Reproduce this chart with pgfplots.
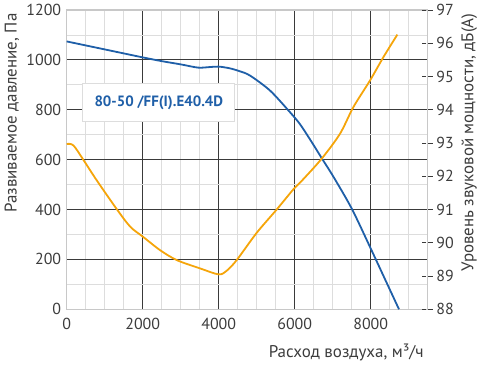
\documentclass[border=0pt]{standalone}
\usepackage{fontspec}
\setmainfont{PT Sans}
\usepackage{pgfplots}
\pgfplotsset{compat=1.18}
\definecolor{cblue}{HTML}{1F5FA8}
\definecolor{corange}{HTML}{F5A50A}
\definecolor{ctext}{HTML}{3C3C3C}
\definecolor{cgrid}{HTML}{DDDDDD}
\definecolor{cframe}{HTML}{C8C8C8}
\definecolor{cmaj}{HTML}{3A3A3A}
\begin{document}
\begin{tikzpicture}
\path[use as bounding box] (-66.7bp,-60.7bp) rectangle (424.3bp,309.3bp);
\begin{axis}[
 scale only axis, width=360.6bp, height=299.3bp,
 xmin=0, xmax=9490, ymin=0, ymax=1200,
 xtick={0,2000,...,8000}, ytick={0,200,...,1200},
 minor xtick={500,1000,...,9000}, minor ytick={100,300,...,1100},
 grid=both,
 major grid style={cmaj, line width=0.8bp},
 minor grid style={cgrid, line width=0.8bp},
 axis line style={cframe, line width=1.5bp},
 tick style={draw=none},
 /pgf/number format/assume math mode=true,
 /pgf/number format/1000 sep={},
 tick label style={font=\fontsize{16}{19}\selectfont, text=ctext},
 yticklabel style={xshift=-2bp},
 xticklabel style={yshift=-5bp},
 every axis y label/.style={at={(rel axis cs:-0.152,1)}, rotate=90, anchor=east, font=\fontsize{17}{20}\selectfont, text=ctext},
 every axis x label/.style={at={(rel axis cs:1,-0.1437)}, anchor=east, font=\fontsize{17}{20}\selectfont, text=ctext},
 ylabel={Развиваемое давление, Па},
 xlabel={Расход воздуха, м³/ч},
]
\addplot[cblue, line width=1.8bp, smooth, tension=0.5] coordinates {
(0,1074) (500,1058) (1000,1042) (1500,1026) (2000,1010) (2500,995) (3000,982) (3455,969) (3750,971) (4000,973) (4297,966) (4561,954) (4825,937) (5351,877) (5877,790) (6140,742) (6450,670) (6711,606) (7017,532) (7500,404) (8000,244) (8400,113) (8745,0)
};
\node[draw=cgrid, fill=white, line width=1bp, minimum width=152bp, minimum height=38.4bp, anchor=north west, inner sep=0pt, font=\fontsize{15}{18}\selectfont\bfseries, text=cblue] at (axis cs:411,908) {80-50 /FF(I).E40.4D};
\end{axis}
\begin{axis}[
 scale only axis, width=360.6bp, height=299.3bp,
 xmin=0, xmax=9490, ymin=88, ymax=97,
 axis x line=none, axis y line*=right,
 ytick={88,89,...,97},
 axis line style={cframe, line width=1.5bp},
 major tick length=11bp, tick align=center,
 tick style={cmaj, line width=0.8bp, dash pattern=on 4.5bp off 2bp on 4.5bp},
 /pgf/number format/assume math mode=true,
 tick label style={font=\fontsize{16}{19}\selectfont, text=ctext},
 every axis y label/.style={at={(rel axis cs:1.1165,1)}, rotate=90, anchor=east, font=\fontsize{17}{20}\selectfont, text=ctext},
 ylabel={Уровень звуковой мощности, дБ(А)},
]
\addplot[corange, line width=1.8bp, smooth, tension=0.5] coordinates {
(0,92.97) (175,92.93) (447,92.48) (789,91.88) (1325,91.0) (1675,90.48) (2009,90.18) (2456,89.78) (2895,89.48) (3509,89.23) (4000,89.05) (4211,89.16) (4474,89.48) (5000,90.3) (5526,91.0) (5982,91.63) (6200,91.88) (6711,92.53) (7193,93.28) (7544,94.08) (7982,94.88) (8333,95.58) (8702,96.26)
};
\end{axis}
\end{tikzpicture}
\end{document}
